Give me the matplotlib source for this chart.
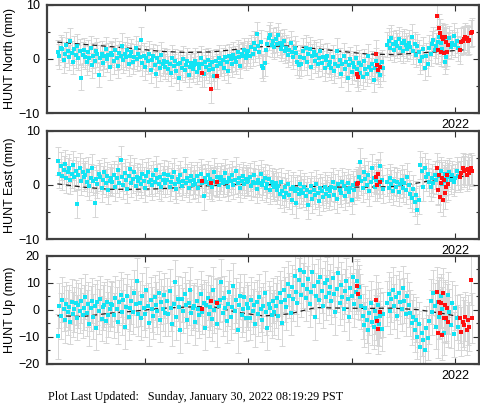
import numpy as np
import matplotlib
matplotlib.use('Agg')
import matplotlib.pyplot as plt
from matplotlib.ticker import FixedLocator, FixedFormatter

plt.rcParams['font.family'] = ['Liberation Sans', 'DejaVu Sans']

# time span of the two cyan (final) segments, decimal years
seg_a = (2018.157, 2021.303)
seg_b = (2021.342, 2022.029)

north_a = [1.2, 0.5, 2.1, 1.8, -0.2, 0.9, 2.6, 1.5, 0.3, 3.4, 1.1, -0.5, 1.9, 0.7, 2.3, 0.2, 1.4, -3.5, 0.8, 1.6,
           0.4, -0.6, 1.2, 0.1, 2.0, -1.2, 0.6, -0.3, 1.5, 0.9, -2.9, 0.2, 1.0, -0.8, 0.5, 1.8, -0.1, 0.7, -1.5, 1.1,
           0.8, -0.4, 1.6, 0.2, -1.3, 1.1, 0.5, 2.4, -0.2, 0.9, 0.3, 1.7, -0.9, 0.6, 1.3, -0.5, 0.4, 2.0, 0.0, 1.0,
           0.3, 3.5, -0.8, 0.6, -1.5, 0.1, -0.4, 1.0, -2.1, -0.2, 0.5, -1.1, -2.8, 0.2, -0.6, -1.7, 0.8, -0.9, -0.3, -1.4,
           -0.5, -1.8, -0.9, -2.6, 0.2, -1.3, -0.4, -2.2, -1.0, -3.5, -0.7, -1.6, 0.0, -2.0, -1.1, -0.3, -2.9, -1.4, -0.8, -1.9,
           -1.2, -0.3, -2.4, -0.9, -1.7, 0.1, -1.0, -2.8, -0.5, -1.5, -0.2, -2.1, -1.1, -0.6, -1.8, -3.2, -0.4, -1.3, 0.2, -0.8,
           -0.9, -0.2, -1.6, 0.3, -0.6, -2.2, 0.5, -0.1, -1.0, 0.8, 0.1, -0.5, 1.2, 0.4, -1.3, 0.9, 0.6, 1.6, 0.2, 1.0,
           1.5, 0.6, 2.2, 1.0, 2.9, 1.8, 4.6, 2.4, 1.2, 3.1, -1.3, -1.7, -0.8, 1.6, 2.8, 3.9, 4.5, 2.6, 3.4, 2.2,
           3.6, 2.7, 4.4, 3.0, 1.9, 2.5, 3.3, 1.5, 2.1, 0.8, 1.7, 2.9, 1.2, 0.4, 2.0, 1.1, -0.6, -1.2, 0.3, -0.9,
           1.5, 0.2, 2.1, -0.6, 0.9, 1.8, -1.4, 0.5, 1.2, -0.3, 0.8, -1.0, 0.1, 1.4, -0.8, 0.4, -1.7, -0.2, 0.6, -1.1,
           -0.5, -1.6, 0.3, -2.2, -0.9, 1.5, -1.3, -0.2, -2.8, -1.0, 0.6, -1.9, -0.6, -3.6, -1.2, -0.1, -2.4, -0.8, -1.5, 0.2,
           -1.8, -0.7, -2.5, -1.2, -3.3, -0.4, -1.9, -2.7, 0.5, -1.4, -2.1, -0.9, -3.8, -1.6, -0.3, -2.3, -1.1, -2.9, -0.6, -1.7]
north_b = [2.6, 3.4, 2.1, 3.9, 2.8, 1.7, 3.1, 2.4, 3.6, 2.0, 2.9, 1.5, 3.3, 2.5, 1.9, 3.0,
           2.2, 4.1, 1.4, 2.7, 0.8, 2.3, 1.2,
           -0.4, 0.3, 1.8, -1.6, 0.6, -0.9,
           2.1, 1.0, 2.8, 3.5, 1.6, 2.4, 3.2, 4.0, 2.9, 1.8, 3.6, -0.5, 0.4, 2.5, 3.8, 2.2, 3.0, 4.3, 2.6, 3.4, 2.0]

east_a = [4.4, 2.1, 3.5, 1.6, 2.8, 3.9, 1.2, 2.4, 3.1, 0.9, 2.0, 3.6, 1.5, 2.6, -3.5, 1.9, 3.2, 0.8, 2.3, 1.4,
          1.8, 0.5, 2.6, -0.2, 1.3, 3.1, 0.7, -3.3, 1.1, 0.2, 2.0, 1.5, -0.6, 0.9, 2.4, 0.3, 1.6, -1.0, 0.8, 1.2,
          0.6, 1.9, -0.4, 1.2, 2.7, 0.3, 4.6, 1.5, 0.0, 2.2, 0.9, -0.8, 1.7, 3.0, 0.4, 1.1, 2.4, -0.2, 1.4, 0.7,
          1.3, 0.2, 2.1, 0.8, -0.5, 1.6, 2.4, 0.5, 1.0, -0.1, 1.9, 0.6, 2.8, 1.2, 0.1, 1.5, -0.4, 0.9, 2.0, 0.3,
          0.9, 1.8, -0.3, 0.5, 1.4, 2.3, 0.1, -0.8, 1.1, 0.6, 1.9, -0.2, 0.8, 2.6, 0.3, 1.2, -0.6, 0.7, 1.6, 0.0,
          1.0, 0.2, 1.7, -0.5, 0.8, 2.1, 0.4, -2.0, 1.3, 0.6, 1.9, 0.1, 1.1, -0.3, 0.7, 2.4, 0.5, 1.4, -0.1, 0.9,
          1.5, 0.3, 1.0, 2.2, 0.6, -0.4, 1.3, 0.8, 1.8, 0.0, 0.9, 2.5, 0.4, 1.2, -0.6, 0.7, 1.6, 0.2, 1.1, 0.5,
          0.8, 1.4, -0.2, 0.6, 1.9, 0.3, -0.7, 1.0, 0.4, 2.0, -0.1, 0.7, 1.3, -0.5, 0.2, 1.1, -0.9, 0.5, 0.0, -0.4,
          0.3, -0.9, -0.2, -1.6, 0.5, -1.1, -2.3, -0.4, -1.4, 0.1, -1.9, -0.7, -2.8, -0.3, -1.2, -3.4, -0.8, -1.7, 0.2, -1.0,
          -1.5, -0.4, -2.1, -0.9, -3.7, -1.3, -0.2, -2.5, -1.0, -1.8, 0.1, -1.4, -2.9, -0.6, -1.1, -2.2, -0.3, -1.6, -0.8, -2.0,
          -1.2, -0.3, 0.5, -1.8, -0.6, -2.6, 0.2, -0.9, -1.5, 0.6, -0.2, -2.1, -0.8, 0.3, -1.3, -0.5, -2.8, -0.1, -1.0, 0.4,
          0.3, 1.5, 4.3, 0.8, -0.6, 2.4, 1.1, 0.0, 1.8, -1.2, 0.6, 3.1, 1.3, -0.3, 0.9, 2.0, 0.2, 3.5, 1.0, -0.8]
east_b = [0.5, -0.6, 1.2, 0.1, -1.1, 0.8, -0.3, 0.6, -1.3, 0.2, 1.0, -0.5, 0.4, -0.9, 1.5, 0.0,
          -1.6, -2.4, -0.8, -3.2, -1.9, -4.6, -2.8,
          3.7, 2.6, -0.4, 3.2, 1.4, 2.1,
          0.6, -0.3, 1.2, 0.4, 1.9, 0.9, -0.9, 1.6, 2.5, 0.2, 1.1, 2.0, 0.7, 1.5, 2.3, 1.0, 1.8, 0.6, 1.3, 2.6, 1.7]

up_a = [-9.7, 1.5, -2.3, 3.6, 0.4, -3.8, 2.1, -0.9, 1.0, -4.5, 3.0, -1.6, 0.2, 2.5, -2.9, 1.7, -0.4, 3.3, -2.0, 0.8,
        4.8, -1.2, 2.0, -5.1, 0.6, 3.4, -2.6, 1.3, -6.7, 2.7, -0.5, 4.1, -3.3, 0.9, 1.8, -4.0, 3.0, -1.8, 0.3, 2.2,
        1.9, -2.1, 4.3, 0.2, -4.5, 2.8, 5.6, -1.0, 3.5, -6.3, 1.1, 4.9, -2.7, 0.6, 3.1, -0.8, 6.2, 2.0, 10.7, -1.5,
        2.4, -3.0, 5.1, 0.8, -1.7, 7.3, 1.5, -4.9, 3.7, 0.1, -2.4, 4.6, 1.9, -0.6, 6.0, -3.6, 2.9, 0.4, 5.4, -1.2,
        3.3, -1.4, 6.8, 0.5, -5.2, 2.2, 10.2, -2.8, 4.1, 1.0, -7.5, 3.9, -0.3, 5.7, 1.6, -3.9, 2.6, 7.4, -1.1, 0.7,
        1.4, -4.6, 3.2, 0.3, -2.0, 5.9, -0.7, 2.5, -6.7, 1.8, 4.4, -1.6, 0.9, -3.4, 7.3, -0.2, 2.9, -5.3, 1.2, 3.7,
        10.4, -1.3, 4.2, 0.6, -4.1, 2.3, 6.5, -2.7, 1.1, 8.9, -0.4, 3.5, -7.5, 1.8, 5.0, -1.9, 0.2, 4.7, -3.2, 2.0,
        0.8, -2.9, 3.6, -0.6, 1.9, -5.4, 2.7, -1.5, 4.8, 0.1, -3.7, 1.4, 6.0, -0.9, -6.7, 2.2, 0.5, -2.1, 3.3, -1.0,
        1.5, 4.2, -2.3, 6.1, 2.8, -4.9, 7.4, 3.6, 0.9, 9.5, 5.2, -1.1, 8.3, 4.0, 12.6, 6.7, 2.4, 10.8, 14.7, 5.5,
        9.1, 13.9, 4.3, 7.8, 11.5, 2.0, 6.4, 14.0, 8.7, -2.7, 5.1, 10.3, 3.5, 12.2, 7.0, 1.4, 9.8, 4.6, 11.0, 6.2,
        8.4, 3.1, 11.6, 5.7, -1.0, 7.5, 13.5, 2.6, 9.3, 4.8, 0.4, 6.9, 10.7, 3.8, -2.7, 8.0, 5.2, 12.1, 2.1, 6.6,
        10.5, 8.3, 4.7, 1.2, -2.4, -5.6, 0.6, -3.8, -7.5, -1.1, 2.4, -4.6, -6.2, -0.5, -3.0, 1.8, -5.1, -2.2, -7.0, -1.6]
up_b = [2.4, 5.8, -0.6, 3.9, 7.3, 1.2, 4.6, -2.2, 6.1, 2.9, 0.3, 8.0, 3.4, -1.5, 5.2, 1.8,
        -1.2, -4.8, -2.5, -7.3, -3.6, -9.9, -5.4,
        -13.6, -8.7, -11.2, -14.8, -6.9, -10.4,
        -4.2, 3.1, -1.0, 6.2, 1.5, -6.3, 2.8, -2.6, 4.9, 0.2, -8.5, 1.9, -3.4, 5.6, -0.8, -5.7, 2.4, -9.1, 0.7, -3.0, -6.4]

# red (rapid) solutions
red_t = [2019.551, 2019.638, 2019.696, 2021.051, 2021.060, 2021.235, 2021.245, 2021.255, 2021.274,
         2021.826, 2021.836, 2021.846, 2021.856, 2021.866, 2021.876, 2021.886, 2021.896, 2021.906, 2021.916, 2021.924, 2021.932,
         2022.048, 2022.061, 2022.074, 2022.087, 2022.100, 2022.113, 2022.126, 2022.139, 2022.152, 2022.165]
north_red = [-2.6, -5.5, -3.1, -2.7, -3.3, 0.9, -1.2, -2.0, -1.5,
             7.9, 1.6, 5.7, 4.8, 1.3, 4.1, 3.7, 1.1, 4.0, 3.1, 1.3, 2.5,
             1.6, 3.2, 3.4, 3.6, 4.1, 3.8, 3.3, 3.5, 4.7, 5.0]
east_red = [0.8, 0.3, 0.6, 0.1, 0.4, 1.4, -0.1, 2.0, 0.5,
            3.1, -0.9, 1.8, -2.2, 0.3, 1.3, -2.8, 0.9, -1.5, -0.3, 1.8, 0.1,
            1.5, 2.2, 3.1, 2.5, 2.8, 1.8, 2.9, 2.2, 3.1, 2.6]
up_red = [0.2, 3.3, 2.4, 8.7, 5.8, 3.6, -4.0, -7.1, -1.0,
          6.7, -8.7, 3.0, -1.3, 2.4, -9.3, 6.1, -2.9, 1.8, -3.2, 0.5, -4.5,
          -3.2, -8.1, -4.5, -5.6, -2.5, -7.5, -3.8, -6.2, 11.0, -3.0]

# model (dashed)
model_t = [2018.15, 2018.40, 2018.65, 2018.90, 2019.15, 2019.40, 2019.65, 2019.90, 2020.15,
           2020.40, 2020.65, 2020.90, 2021.15, 2021.40, 2021.65, 2021.90, 2022.10]
north_model = [3.1, 2.7, 2.3, 1.9, 1.4, 1.2, 1.3, 1.8, 2.3, 2.4, 1.9, 1.4, 0.9, 0.8, 1.1, 1.4, 1.7]
east_model = [0.2, -0.4, -0.8, -0.8, -0.7, -0.4, -0.1, 0.1, 0.1, -0.1, -0.3, -0.4, -0.4, -0.3, 0.4, 1.3, 1.6]
up_model = [-2.2, -2.5, -1.3, -0.5, 0.5, 1.0, 1.2, -1.0, -2.3, -1.5, 0.8, 0.6, 0.5, 0.6, 0.0, -1.5, -3.0]

sigma = {'North': 2.3, 'East': 2.6, 'Up': 8.3}

panels = [
    ('North', north_a, north_b, north_red, north_model, 10),
    ('East', east_a, east_b, east_red, east_model, 10),
    ('Up', up_a, up_b, up_red, up_model, 20),
]

W, H = 481, 404
fig = plt.figure(figsize=(W / 100, H / 100), dpi=100)
left, right = 46.7, 479.0
tops = [4.7, 130.7, 255.5]
ph = 108.5

x0 = 2018.047
x1 = 2022.232

for (name, va, vb, vr, vm, lim), top in zip(panels, tops):
    ax = fig.add_axes([left / W, 1 - (top + ph) / H, (right - left) / W, ph / H])
    ta = np.linspace(seg_a[0], seg_a[1], len(va))
    tb = np.linspace(seg_b[0], seg_b[1], len(vb))
    t = np.concatenate([ta, tb])
    v = np.concatenate([va, vb])
    s = sigma[name]
    ax.errorbar(t, v, yerr=s, fmt='none', ecolor='#d6d6d6', elinewidth=0.7,
                capsize=2.0, capthick=0.7, zorder=1)
    ax.errorbar(red_t, vr, yerr=s * 1.1, fmt='none', ecolor='#d6d6d6', elinewidth=0.7,
                capsize=2.0, capthick=0.7, zorder=1)
    ax.plot(model_t, vm, color='#202020', lw=0.9, ls=(0, (4, 3)), zorder=2)
    ax.plot(t, v, 's', color='#12e4f4', ms=2.3, mew=0, zorder=3)
    ax.plot(red_t, vr, 's', color='#ff1010', ms=2.3, mew=0, zorder=4)

    ax.set_xlim(x0, x1)
    ax.set_ylim(-lim, lim)
    ax.xaxis.set_major_locator(FixedLocator([2019, 2020, 2021, 2022]))
    ax.xaxis.set_major_formatter(FixedFormatter(['', '', '', '2022']))
    ax.yaxis.set_major_locator(FixedLocator(list(range(-lim, lim + 1, 10))))
    ax.yaxis.set_minor_locator(FixedLocator(list(range(-lim + 5, lim, 10))))
    ax.tick_params(which='both', direction='in', top=True, right=True,
                   color='#303030', width=0.8, labelsize=9, colors='#000000')
    ax.tick_params(which='major', length=4.5, pad=4)
    ax.tick_params(which='minor', length=2.5)
    ax.tick_params(axis='y', which='both', labelright=False)
    ax.tick_params(axis='y', pad=5)
    for sp in ax.spines.values():
        sp.set_linewidth(1.6)
        sp.set_color('#404040')
    ax.set_ylabel('HUNT %s (mm)' % name, fontsize=9)
    ax.yaxis.set_label_coords(-0.072, 0.5)

fig.text(48 / W, 1 - 397 / H, 'Plot Last Updated:   Sunday, January 30, 2022 08:19:29 PST',
         family=['Liberation Serif', 'DejaVu Serif'], fontsize=8.7, va='center', ha='left')

fig.savefig('out.png', dpi=100)
